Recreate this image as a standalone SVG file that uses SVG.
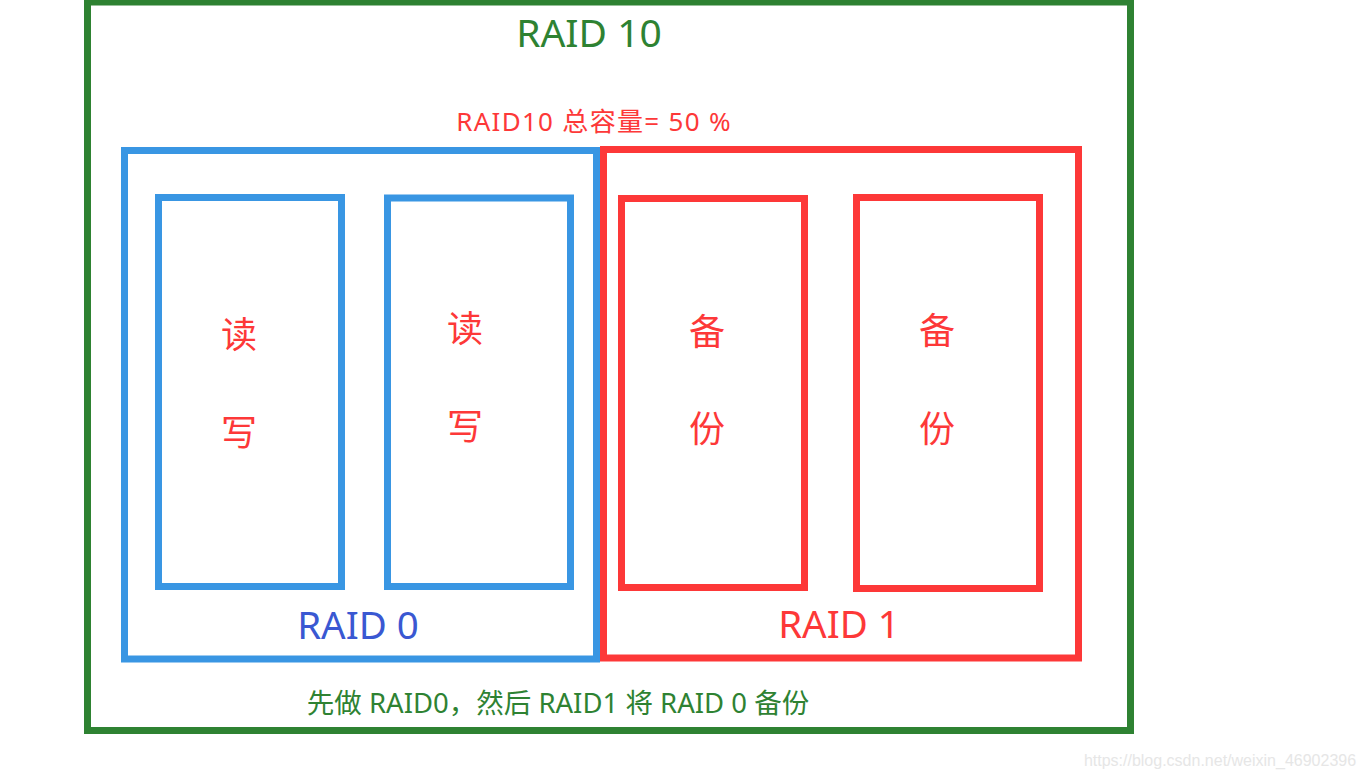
<svg xmlns="http://www.w3.org/2000/svg" width="1365" height="778" viewBox="0 0 1365 778">
<style>
.box{fill:none;stroke-width:7}
.g{stroke:#2e8232}
.b{stroke:#3996e3}
.r{stroke:#fd3838}
text{font-family:"Noto Sans","Noto Sans CJK SC",sans-serif;text-anchor:middle}
.ch{font-size:36px;fill:#fd3838}
</style>
<rect width="1365" height="778" fill="#ffffff"/>
<g id="raid10">
<rect class="box g" x="87.5" y="2" width="1043" height="728.5"/>
<text x="589" y="47" font-size="39" fill="#2e8232">RAID 10</text>
<text x="594" y="131" font-size="26" fill="#fd3838" letter-spacing="1.3">RAID10 总容量= 50 %</text>
<text x="558" y="713" font-size="27.5" fill="#2e8232">先做 RAID0，然后 RAID1 将 RAID 0 备份</text>
</g>
<g id="raid0">
<rect class="box b" x="124.5" y="150.5" width="472" height="508.5"/>
<text x="358" y="639" font-size="38.5" fill="#3a58d2">RAID 0</text>
</g>
<g id="raid1">
<rect class="box r" x="603.5" y="149.5" width="475" height="508.5"/>
<text x="839" y="638" font-size="38.5" fill="#fd3838">RAID 1</text>
</g>
<g id="disk1">
<rect class="box b" x="158.5" y="197.5" width="183" height="389"/>
<text class="ch" x="239" y="348">读</text>
<text class="ch" x="239" y="446">写</text>
</g>
<g id="disk2">
<rect class="box b" x="387.5" y="198" width="183" height="388.5"/>
<text class="ch" x="465" y="342">读</text>
<text class="ch" x="465" y="440">写</text>
</g>
<g id="disk3">
<rect class="box r" x="621.5" y="198.5" width="183" height="389"/>
<text class="ch" x="707" y="345">备</text>
<text class="ch" x="707" y="442">份</text>
</g>
<g id="disk4">
<rect class="box r" x="856.5" y="197.5" width="183" height="391"/>
<text class="ch" x="937" y="344">备</text>
<text class="ch" x="937" y="442">份</text>
</g>
<g id="connectors"></g>
<text x="1220" y="766" font-size="16" fill="#e6e6e6" style="font-family:'Liberation Sans',Arial,sans-serif">https://blog.csdn.net/weixin_46902396</text>
</svg>
